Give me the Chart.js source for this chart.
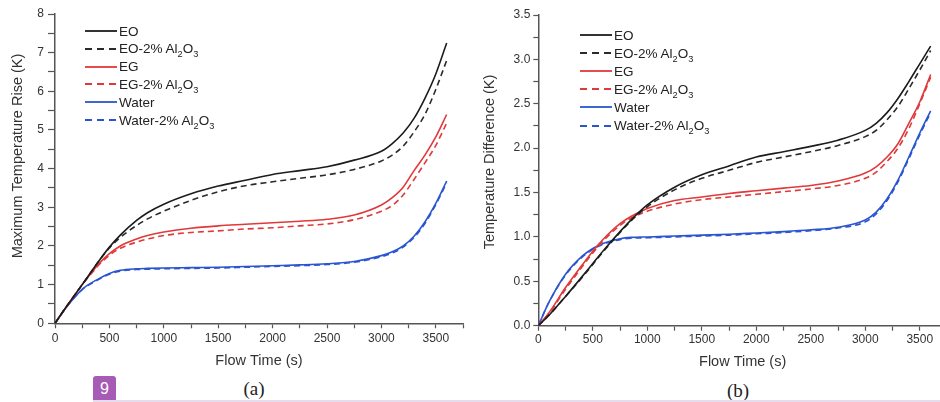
<!DOCTYPE html>
<html>
<head>
<meta charset="utf-8">
<script src="https://cdn.jsdelivr.net/npm/chart.js@4.4.1/dist/chart.umd.min.js"></script>
<style>
    body { margin: 0; width: 940px; height: 402px; overflow: hidden; background: #fff; position: relative;
           font-family: "Liberation Sans", Arial, sans-serif; }
    .wrap { position: absolute; top: 0; height: 375px; }
    .wrap canvas { position: absolute; left: 0; top: 0; }
    .legend { position: absolute; left: 0; top: 0; font-size: 13.5px; color: #222; }
    .legend .row { position: absolute; white-space: nowrap; display: flex; align-items: center; height: 18px; }
    .legend svg { margin-right: 2px; }
    .legend sub { font-size: 0.68em; vertical-align: -0.4em; line-height: 0; }
    .cap { position: absolute; font-family: "Liberation Serif", "DejaVu Serif", serif; font-size: 19px; color: #222;
           transform: translate(-50%, -50%); }
    #badge { position: absolute; left: 93px; top: 376px; width: 23px; height: 26px; background: #a65bb5;
             border-radius: 3px; color: #fff; font-size: 16px; line-height: 26px; text-align: center; }
    #rule { position: absolute; left: 93px; top: 400px; width: 847px; height: 2px; background: #e7dcee; }
</style>
</head>
<body>
<div class="wrap" id="wrapA" style="left:0;width:470px;"><canvas id="chartA"></canvas><div class="legend" id="legendA"></div></div>
<div class="wrap" id="wrapB" style="left:470px;width:480px;"><canvas id="chartB"></canvas><div class="legend" id="legendB"></div></div>
<div class="cap" style="left:254px;top:389px;">(a)</div>
<div class="cap" style="left:738px;top:391px;">(b)</div>
<div id="badge">9</div>
<div id="rule"></div>

<script>
// flow time (s), shared by both panels
const flowTime = [0, 100, 250, 400, 500, 600, 750, 850, 1000, 1250, 1500, 1750, 2000, 2250, 2500, 2750, 3000, 3100, 3200, 3300, 3400, 3500, 3600];

// (a) maximum temperature rise (K)
const riseEO      = [0, 0.41, 1.00, 1.60, 1.97, 2.28, 2.66, 2.86, 3.08, 3.35, 3.55, 3.70, 3.85, 3.95, 4.05, 4.22, 4.45, 4.65, 4.92, 5.30, 5.82, 6.45, 7.25];
const riseEOAl    = [0, 0.41, 1.00, 1.60, 1.95, 2.22, 2.53, 2.70, 2.90, 3.18, 3.40, 3.56, 3.66, 3.75, 3.84, 3.98, 4.20, 4.35, 4.58, 4.95, 5.40, 6.05, 6.80];
const riseEG      = [0, 0.41, 1.00, 1.53, 1.80, 2.00, 2.18, 2.27, 2.36, 2.46, 2.52, 2.56, 2.60, 2.64, 2.69, 2.80, 3.06, 3.25, 3.52, 3.95, 4.35, 4.82, 5.40];
const riseEGAl    = [0, 0.41, 0.99, 1.50, 1.76, 1.94, 2.10, 2.18, 2.27, 2.35, 2.39, 2.44, 2.47, 2.52, 2.57, 2.68, 2.90, 3.05, 3.32, 3.72, 4.15, 4.60, 5.18];
const riseWater   = [0, 0.40, 0.88, 1.15, 1.29, 1.37, 1.41, 1.42, 1.43, 1.44, 1.45, 1.47, 1.49, 1.51, 1.54, 1.60, 1.75, 1.85, 2.00, 2.25, 2.62, 3.10, 3.68];
const riseWaterAl = [0, 0.40, 0.87, 1.13, 1.27, 1.35, 1.39, 1.40, 1.41, 1.42, 1.43, 1.45, 1.47, 1.49, 1.52, 1.58, 1.72, 1.82, 1.97, 2.22, 2.58, 3.07, 3.64];

// (b) temperature difference (K)
const diffEO      = [0, 0.12, 0.33, 0.55, 0.70, 0.85, 1.06, 1.19, 1.36, 1.56, 1.70, 1.80, 1.90, 1.96, 2.02, 2.09, 2.20, 2.28, 2.40, 2.56, 2.75, 2.95, 3.15];
const diffEOAl    = [0, 0.12, 0.33, 0.54, 0.69, 0.84, 1.05, 1.18, 1.34, 1.53, 1.66, 1.75, 1.84, 1.90, 1.96, 2.03, 2.13, 2.20, 2.32, 2.47, 2.67, 2.88, 3.10];
const diffEG      = [0, 0.15, 0.43, 0.68, 0.84, 0.98, 1.15, 1.23, 1.32, 1.41, 1.45, 1.49, 1.52, 1.55, 1.58, 1.63, 1.72, 1.79, 1.90, 2.05, 2.28, 2.52, 2.83];
const diffEGAl    = [0, 0.14, 0.41, 0.66, 0.82, 0.96, 1.13, 1.21, 1.29, 1.37, 1.42, 1.45, 1.48, 1.51, 1.54, 1.58, 1.66, 1.73, 1.85, 2.00, 2.22, 2.50, 2.80];
const diffWater   = [0, 0.27, 0.58, 0.78, 0.87, 0.93, 0.98, 0.995, 1.00, 1.01, 1.02, 1.03, 1.045, 1.06, 1.08, 1.11, 1.19, 1.28, 1.43, 1.64, 1.90, 2.17, 2.42];
const diffWaterAl = [0, 0.27, 0.57, 0.77, 0.86, 0.92, 0.97, 0.985, 0.99, 1.00, 1.01, 1.02, 1.035, 1.05, 1.07, 1.10, 1.17, 1.26, 1.41, 1.62, 1.88, 2.15, 2.40];

const seriesLabels = ["EO", "EO-2% Al2O3", "EG", "EG-2% Al2O3", "Water", "Water-2% Al2O3"];
const seriesColors = ["#1c1c1c", "#2b2b2b", "#e0393a", "#e0393a", "#2b55d0", "#2b55d0"];
const seriesDashed = [false, true, false, true, false, true];

const FONT = '"Liberation Sans", Arial, sans-serif';

const makeDatasets = (rows) => rows.map((vals, i) => ({
    label: seriesLabels[i],
    data: flowTime.map((t, k) => ({ x: t, y: vals[k] })),
    borderColor: seriesColors[i],
    borderWidth: 1.6,
    borderDash: seriesDashed[i] ? [6, 4] : [],
    pointRadius: 0,
    cubicInterpolationMode: "monotone",
    fill: false
}));

// rotated y-axis title drawn at a given spot
const yTitle = (text, cx, cy) => ({
    id: "yTitle",
    afterDraw(chart) {
        const ctx = chart.ctx;
        ctx.save();
        ctx.translate(cx, cy);
        ctx.rotate(-Math.PI / 2);
        ctx.font = "14.5px " + FONT;
        ctx.fillStyle = "#333";
        ctx.textAlign = "center";
        ctx.textBaseline = "middle";
        ctx.fillText(text, 0, 0);
        ctx.restore();
    }
});

const createConfig = (rows, opt) => ({
    type: "line",
    data: { datasets: makeDatasets(rows) },
    options: {
        responsive: false,
        animation: false,
        layout: { padding: { top: opt.top, right: opt.right, left: 0, bottom: 0 } },
        plugins: { legend: { display: false }, tooltip: { enabled: false } },
        scales: {
            x: {
                type: "linear", min: 0, max: 3750,
                border: { color: "#555", width: 1.5 },
                grid: { drawOnChartArea: false, tickLength: 5, tickColor: "#555", tickWidth: 1.2 },
                ticks: {
                    stepSize: 250, autoSkip: false, maxRotation: 0, padding: opt.xPad,
                    color: "#333", font: { size: 12, family: FONT },
                    callback: (v) => v % 500 === 0 ? v : ""
                },
                title: { display: true, text: "Flow Time (s)", color: "#333",
                         font: { size: 14.5, family: FONT }, padding: { top: 0, bottom: opt.titlePad } },
                afterFit: (s) => { s.height = opt.xHeight; }
            },
            y: {
                min: 0, max: opt.yMax,
                border: { color: "#555", width: 1.5 },
                grid: { drawOnChartArea: false, tickLength: opt.yTick, tickColor: "#555", tickWidth: 1.2 },
                ticks: {
                    stepSize: opt.yStep, autoSkip: false, padding: opt.yPad,
                    color: "#333", font: { size: 12, family: FONT },
                    callback: opt.yLabel
                },
                afterFit: (s) => { s.width = opt.yWidth; }
            }
        }
    },
    plugins: [yTitle(opt.yText, opt.titleX, opt.titleY)]
});

const buildLegend = (chart, el, left, top, step) => {
    chart.data.datasets.forEach((ds, i) => {
        const row = document.createElement("div");
        row.className = "row";
        row.style.left = left + "px";
        row.style.top = (top + i * step - 9) + "px";
        const dash = ds.borderDash.length ? ' stroke-dasharray="7 5"' : "";
        row.innerHTML = '<svg width="32" height="4"><line x1="0" y1="2" x2="32" y2="2" stroke="' + ds.borderColor +
            '" stroke-width="1.8"' + dash + '/></svg>' +
            '<span>' + ds.label.replace(/([A-Za-z])(\d)/g, "$1<sub>$2</sub>") + '</span>';
        el.appendChild(row);
    });
};

const canvasA = document.getElementById("chartA");
canvasA.width = 470; canvasA.height = 375;
const chartA = new Chart(canvasA.getContext("2d"), createConfig(
    [riseEO, riseEOAl, riseEG, riseEGAl, riseWater, riseWaterAl],
    { top: 14, right: 7, xHeight: 51.7, xPad: 3, titlePad: 5, yMax: 8, yStep: 0.5, yTick: 7, yPad: 4,
      yWidth: 55, yLabel: (v) => Number.isInteger(v) ? v : "",
      yText: "Maximum Temperature Rise (K)", titleX: 18, titleY: 156 }
));

const canvasB = document.getElementById("chartB");
canvasB.width = 480; canvasB.height = 375;
const chartB = new Chart(canvasB.getContext("2d"), createConfig(
    [diffEO, diffEOAl, diffEG, diffEGAl, diffWater, diffWaterAl],
    { top: 15, right: 3, xHeight: 49.3, xPad: 2, titlePad: 4, yMax: 3.5, yStep: 0.25, yTick: 5, yPad: 3,
      yWidth: 68.3, yLabel: (v) => Math.round(v * 100) % 50 === 0 ? v.toFixed(1) : "",
      yText: "Temperature Difference (K)", titleX: 20, titleY: 162 }
));

buildLegend(chartA, document.getElementById("legendA"), 85, 31, 17.8);
buildLegend(chartB, document.getElementById("legendB"), 110, 35, 18.1);
</script>
</body>
</html>
